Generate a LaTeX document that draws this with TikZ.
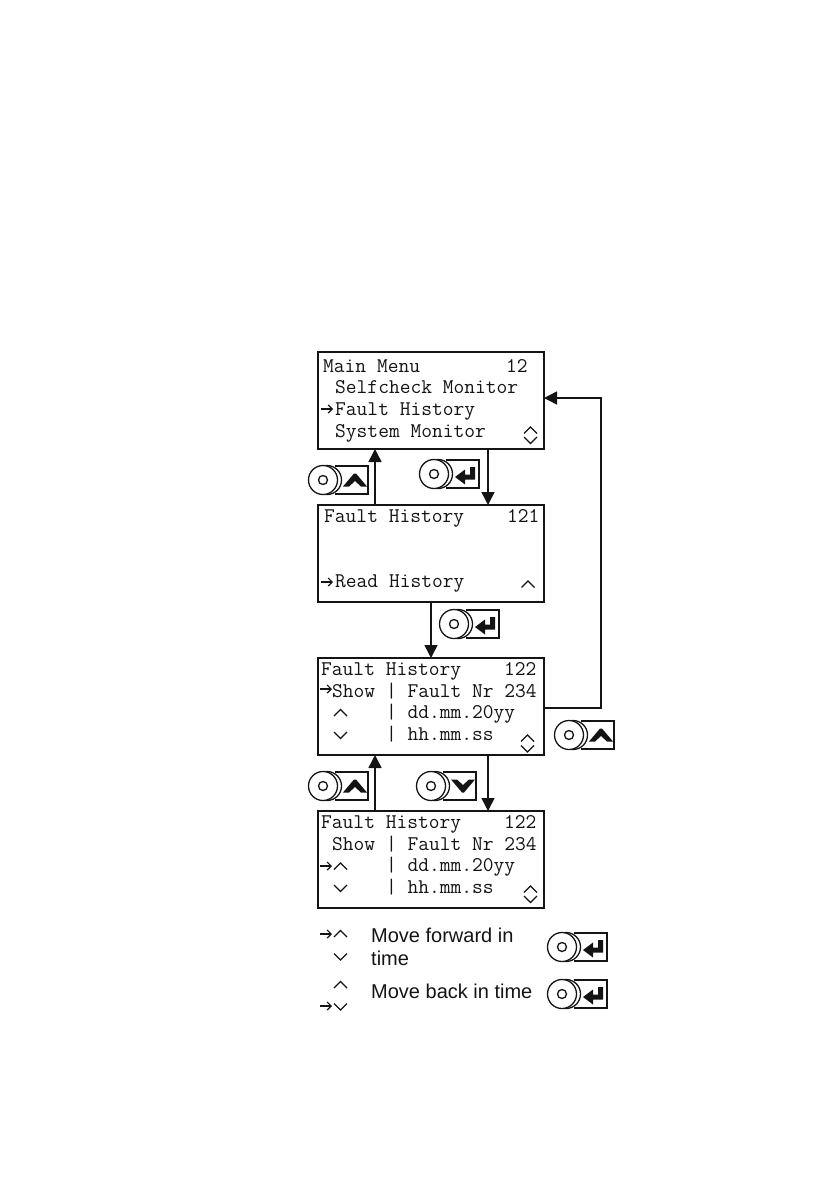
\documentclass[tikz,border=0pt]{standalone}
\usepackage{fontspec}
\setmainfont{Liberation Sans}
\usetikzlibrary{arrows.meta}
\definecolor{ink}{RGB}{20,20,20}
\tikzset{
  screen/.style={draw=ink,line width=1.5pt,fill=white,minimum width=226pt,minimum height=97pt,inner sep=0pt,outer sep=0pt,anchor=north west},
  lcd/.style={font=\fontsize{20.9}{24}\ttfamily,text=ink,inner sep=0pt,anchor=base west},
  note/.style={font=\fontsize{20}{24}\selectfont,text=ink,inner sep=0pt,anchor=base west},
  flow/.style={draw=ink,line width=1.5pt,-{Triangle[length=13pt,width=13pt]}},
  hat/.style={draw=ink,line width=1.3pt},
  knobline/.style={draw=ink,line width=1.3pt,fill=white},
  pics/knob/.style={code={
    \draw[knobline] (12,-14) -- (45,-14) -- (45,14) -- (12,14);
    \draw[knobline] (4,0) circle (14.5);
    \draw[knobline] (0,0) circle (14.5);
    \draw[knobline] (0,0) circle (4.5);
    \fill[ink] #1;
  }},
  pics/up/.style={code={\draw[hat] (-6.5,3) -- (0,-3.5) -- (6.5,3);}},
  pics/down/.style={code={\draw[hat] (-6.5,-3) -- (0,3.5) -- (6.5,-3);}},
  pics/pointer/.style={code={\draw[draw=ink,line width=1.2pt,-{Straight Barb[length=4pt,width=8pt]}] (0,0) -- (12,0);}}
}
\newcommand{\glyphup}{(20,6.5) -- (31,-6.5) -- (33,-6.5) -- (44,6.5) -- (38,6.5) -- (32,1) -- (26,6.5) -- cycle}
\newcommand{\glyphdown}{(20,-6.5) -- (31,6.5) -- (33,6.5) -- (44,-6.5) -- (38,-6.5) -- (32,-1) -- (26,-6.5) -- cycle}
\newcommand{\glyphenter}{(21,3) -- (31,-4.5) -- (31,0.5) -- (36,0.5) -- (36,-7) -- (41,-7) -- (41,5.5) -- (31,5.5) -- (31,10.5) -- cycle}
\begin{document}
\begin{tikzpicture}[x=1pt,y=-1pt]
  \useasboundingbox (0,0) rectangle (839,1190);
  % screens
  \foreach \n/\y in {main/352,hist/505,show/658,back/811}
    \node[screen] (\n) at (318,\y) {};
  % screen text
  \foreach \n/\x/\y/\t in {
    ma/323/372/Main Menu~~~~~~~~12,
    mb/335/393/Selfcheck Monitor,
    mc/335/415/Fault History,
    md/335/437/System Monitor,
    ha/324/522/Fault History~~~~121,
    hb/335/587/Read History,
    sa/321/675/Fault History~~~~122,
    sb/332/697/Show | Fault Nr 234,
    sc/332/718/~~~~~| dd.mm.20yy,
    sd/332/740/~~~~~| hh.mm.ss,
    ba/321/828/Fault History~~~~122,
    bb/332/850/Show | Fault Nr 234,
    bc/332/871/~~~~~| dd.mm.20yy,
    bd/332/893/~~~~~| hh.mm.ss}
    \node[lcd] (\n) at (\x,\y) {\t};
  % legend text
  \node[note] (fwd) at (371,942) {Move forward in};
  \node[note] (fwdb) at (371,965) {time};
  \node[note] (bwd) at (371,998) {Move back in time};
  % small marks
  \foreach \x/\y in {530.5/430.5,528/584.5,527.5/738.5,530.5/889.5,340.5/713,340.5/866.5,340.5/934,340.5/985}
    \pic at (\x,\y) {up};
  \foreach \x/\y in {530.5/440,527.5/748.5,530.5/899,340.5/735,340.5/888,340.5/956.5,340.5/1006.5}
    \pic at (\x,\y) {down};
  \foreach \x/\y in {321/409,321/582,320/689,320/866,320/934,320/1006}
    \pic at (\x,\y) {pointer};
  % connectors
  \coordinate (lane a) at (375,0);
  \coordinate (lane b) at (488,0);
  \coordinate (lane c) at (431,0);
  \coordinate (bend low) at (601,708);
  \coordinate (bend high) at (601,398);
  \draw[flow] (hist.north -| lane a) -- (main.south -| lane a);
  \draw[flow] (main.south -| lane b) -- (hist.north -| lane b);
  \draw[flow] (hist.south -| lane c) -- (show.north -| lane c);
  \draw[flow] (back.north -| lane a) -- (show.south -| lane a);
  \draw[flow] (show.south -| lane b) -- (back.north -| lane b);
  \draw[flow] (show.east |- bend low) -- (bend low) -- (bend high) -- (main.east |- bend high);
  % knobs
  \foreach \x/\y/\g in {323/480/\glyphup,434/474/\glyphenter,454/624/\glyphenter,569/735/\glyphup,
    323/786/\glyphup,431/786/\glyphdown,562/947/\glyphenter,562/994/\glyphenter}
    \pic at (\x,\y) {knob={\g}};
\end{tikzpicture}
\end{document}
